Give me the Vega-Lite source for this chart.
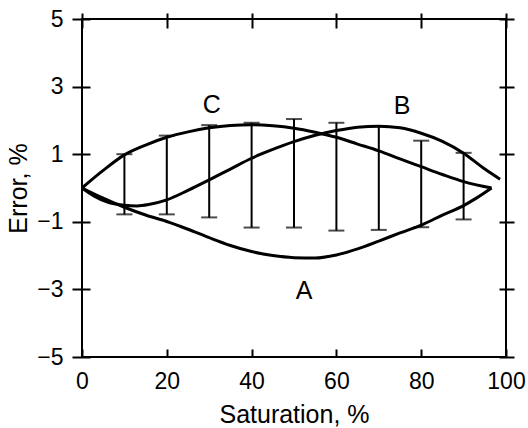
{
  "$schema": "https://vega.github.io/schema/vega-lite/v6.json",
  "width": 424,
  "height": 338,
  "autosize": {"type": "none"},
  "padding": {"left": 82, "top": 19, "right": 22, "bottom": 71},
  "background": "white",
  "config": {
    "view": {"stroke": "black", "strokeWidth": 2},
    "axis": {
      "grid": false,
      "domain": false,
      "labelFlush": false,
      "labelOverlap": false,
      "tickColor": "black",
      "tickWidth": 2,
      "labelColor": "black",
      "titleColor": "black",
      "labelFont": "Liberation Sans",
      "titleFont": "Liberation Sans",
      "titleFontWeight": "normal",
      "labelFontSize": 23,
      "titleFontSize": 25
    }
  },
  "datasets": {
    "curves": [
      {"curve": "A", "s": 0, "e": 0},
      {"curve": "A", "s": 5, "e": -0.3},
      {"curve": "A", "s": 10, "e": -0.57},
      {"curve": "A", "s": 15, "e": -0.8},
      {"curve": "A", "s": 20, "e": -0.99},
      {"curve": "A", "s": 25, "e": -1.22},
      {"curve": "A", "s": 30, "e": -1.47},
      {"curve": "A", "s": 35, "e": -1.7},
      {"curve": "A", "s": 40, "e": -1.88},
      {"curve": "A", "s": 45, "e": -2.0},
      {"curve": "A", "s": 50, "e": -2.06},
      {"curve": "A", "s": 55, "e": -2.07},
      {"curve": "A", "s": 60, "e": -1.98},
      {"curve": "A", "s": 65, "e": -1.8},
      {"curve": "A", "s": 70, "e": -1.57},
      {"curve": "A", "s": 75, "e": -1.33},
      {"curve": "A", "s": 80, "e": -1.1},
      {"curve": "A", "s": 85, "e": -0.8},
      {"curve": "A", "s": 90, "e": -0.52},
      {"curve": "A", "s": 93, "e": -0.3},
      {"curve": "A", "s": 96.6, "e": 0},
      {"curve": "B", "s": 0, "e": 0},
      {"curve": "B", "s": 3, "e": -0.25},
      {"curve": "B", "s": 6, "e": -0.42},
      {"curve": "B", "s": 10, "e": -0.51},
      {"curve": "B", "s": 13, "e": -0.53},
      {"curve": "B", "s": 16, "e": -0.48},
      {"curve": "B", "s": 20, "e": -0.35},
      {"curve": "B", "s": 25, "e": -0.07},
      {"curve": "B", "s": 30, "e": 0.24},
      {"curve": "B", "s": 35, "e": 0.56},
      {"curve": "B", "s": 40, "e": 0.88},
      {"curve": "B", "s": 45, "e": 1.14},
      {"curve": "B", "s": 50, "e": 1.37},
      {"curve": "B", "s": 55, "e": 1.56},
      {"curve": "B", "s": 60, "e": 1.7},
      {"curve": "B", "s": 65, "e": 1.8},
      {"curve": "B", "s": 70, "e": 1.83},
      {"curve": "B", "s": 75, "e": 1.78},
      {"curve": "B", "s": 80, "e": 1.62},
      {"curve": "B", "s": 85, "e": 1.38},
      {"curve": "B", "s": 90, "e": 1.03},
      {"curve": "B", "s": 95, "e": 0.56},
      {"curve": "B", "s": 98.6, "e": 0.26},
      {"curve": "C", "s": 0, "e": 0},
      {"curve": "C", "s": 5, "e": 0.52},
      {"curve": "C", "s": 10, "e": 0.98},
      {"curve": "C", "s": 15, "e": 1.27},
      {"curve": "C", "s": 20, "e": 1.5},
      {"curve": "C", "s": 25, "e": 1.66},
      {"curve": "C", "s": 30, "e": 1.78},
      {"curve": "C", "s": 35, "e": 1.85},
      {"curve": "C", "s": 40, "e": 1.87},
      {"curve": "C", "s": 45, "e": 1.84},
      {"curve": "C", "s": 50, "e": 1.77},
      {"curve": "C", "s": 55, "e": 1.65},
      {"curve": "C", "s": 60, "e": 1.5},
      {"curve": "C", "s": 65, "e": 1.3},
      {"curve": "C", "s": 70, "e": 1.1},
      {"curve": "C", "s": 75, "e": 0.86},
      {"curve": "C", "s": 80, "e": 0.63},
      {"curve": "C", "s": 85, "e": 0.4},
      {"curve": "C", "s": 90, "e": 0.19},
      {"curve": "C", "s": 96.6, "e": 0}
    ],
    "bars": [
      {"s": 10, "lo": -0.78, "hi": 1.0},
      {"s": 20, "lo": -0.78, "hi": 1.55},
      {"s": 30, "lo": -0.87, "hi": 1.86},
      {"s": 40, "lo": -1.17, "hi": 1.93},
      {"s": 50, "lo": -1.17, "hi": 2.04},
      {"s": 60, "lo": -1.26, "hi": 1.93},
      {"s": 70, "lo": -1.24, "hi": 1.83},
      {"s": 80, "lo": -1.16, "hi": 1.4},
      {"s": 90, "lo": -0.93, "hi": 1.04}
    ],
    "labels": [
      {"label": "C", "s": 30.6, "e": 2.45},
      {"label": "B", "s": 75.5, "e": 2.43},
      {"label": "A", "s": 52.4, "e": -3.04}
    ]
  },
  "layer": [
    {
      "data": {"name": "curves"},
      "mark": {"type": "line", "interpolate": "monotone", "color": "black", "strokeWidth": 3},
      "encoding": {
        "x": {
          "field": "s", "type": "quantitative",
          "scale": {"domain": [0, 100], "nice": false, "zero": false},
          "axis": {"orient": "bottom", "values": [0, 20, 40, 60, 80, 100], "tickSize": 8, "offset": -8, "labelPadding": 13, "title": "Saturation, %", "titlePadding": 9}
        },
        "y": {
          "field": "e", "type": "quantitative",
          "scale": {"domain": [-5, 5], "nice": false, "zero": false},
          "axis": {"orient": "left", "values": [-5, -3, -1, 1, 3, 5], "tickSize": 18, "offset": -8, "labelPadding": 9, "title": "Error, %", "titlePadding": 5}
        },
        "detail": {"field": "curve"}
      }
    },
    {
      "data": {"name": "bars"},
      "mark": {"type": "rule", "color": "black", "strokeWidth": 2},
      "encoding": {
        "x": {
          "field": "s", "type": "quantitative",
          "scale": {"domain": [0, 100], "nice": false, "zero": false},
          "axis": {"orient": "top", "values": [0, 20, 40, 60, 80, 100], "tickSize": 15, "offset": -9, "labels": false, "title": null}
        },
        "y": {
          "field": "lo", "type": "quantitative",
          "scale": {"domain": [-5, 5], "nice": false, "zero": false},
          "axis": {"orient": "right", "values": [-5, -3, -1, 1, 3, 5], "tickSize": 15, "offset": -7, "labels": false, "title": null}
        },
        "y2": {"field": "hi"}
      }
    },
    {
      "data": {"name": "bars"},
      "mark": {"type": "tick", "orient": "horizontal", "color": "black", "size": 16, "thickness": 2},
      "encoding": {
        "x": {"field": "s", "type": "quantitative", "axis": null},
        "y": {"field": "lo", "type": "quantitative", "axis": null}
      }
    },
    {
      "data": {"name": "bars"},
      "mark": {"type": "tick", "orient": "horizontal", "color": "black", "size": 16, "thickness": 2},
      "encoding": {
        "x": {"field": "s", "type": "quantitative", "axis": null},
        "y": {"field": "hi", "type": "quantitative", "axis": null}
      }
    },
    {
      "mark": {"type": "rule", "color": "black", "strokeWidth": 1.5},
      "encoding": {
        "y": {"datum": 0, "type": "quantitative", "axis": null}
      }
    },
    {
      "data": {"name": "labels"},
      "mark": {"type": "text", "font": "Liberation Sans", "fontSize": 25, "color": "black", "baseline": "middle", "align": "center"},
      "encoding": {
        "x": {"field": "s", "type": "quantitative", "axis": null},
        "y": {"field": "e", "type": "quantitative", "axis": null},
        "text": {"field": "label"}
      }
    }
  ],
  "resolve": {"axis": {"x": "independent", "y": "independent"}}
}
